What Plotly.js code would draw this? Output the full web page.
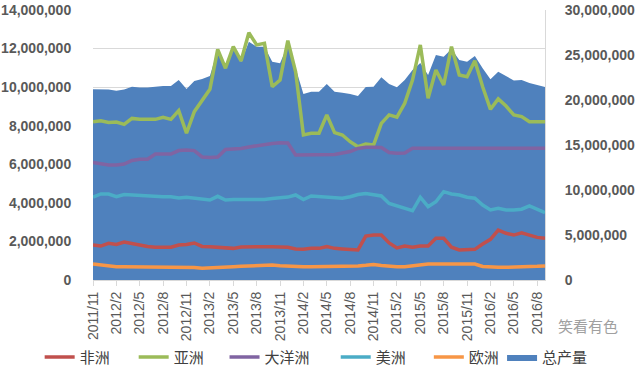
<!DOCTYPE html>
<html>
<head>
<meta charset="utf-8">
<script src="https://cdn.plot.ly/plotly-3.0.1.min.js"></script>
<style>
html,body{margin:0;padding:0;background:#fff;}
#chart{width:640px;height:369px;}
</style>
</head>
<body>
<div id="chart"></div>
<script>
var months = ['2011/11','2011/12','2012/1','2012/2','2012/3','2012/4','2012/5','2012/6','2012/7','2012/8','2012/9','2012/10',
'2012/11','2012/12','2013/1','2013/2','2013/3','2013/4','2013/5','2013/6','2013/7','2013/8','2013/9','2013/10',
'2013/11','2013/12','2014/1','2014/2','2014/3','2014/4','2014/5','2014/6','2014/7','2014/8','2014/9','2014/10',
'2014/11','2014/12','2015/1','2015/2','2015/3','2015/4','2015/5','2015/6','2015/7','2015/8','2015/9','2015/10',
'2015/11','2015/12','2016/1','2016/2','2016/3','2016/4','2016/5','2016/6','2016/7','2016/8','2016/9'];

var africa = [1810000,1760000,1900000,1840000,1970000,1900000,1790000,1740000,1700000,1700000,1700000,1810000,
1840000,1920000,1740000,1730000,1700000,1660000,1640000,1710000,1730000,1730000,1730000,1730000,
1700000,1700000,1610000,1590000,1640000,1640000,1730000,1640000,1610000,1580000,1560000,2280000,
2330000,2330000,1920000,1660000,1760000,1700000,1760000,1760000,2160000,2160000,1700000,1560000,
1590000,1590000,1870000,2110000,2590000,2420000,2330000,2450000,2330000,2210000,2160000];

var asia = [8210000,8260000,8170000,8190000,8070000,8380000,8330000,8320000,8330000,8440000,8330000,8780000,
7610000,8730000,9330000,9890000,11960000,10980000,12100000,11360000,12820000,12190000,12270000,10020000,
10370000,12410000,10790000,7520000,7610000,7610000,8560000,7640000,7520000,7170000,6910000,7050000,
7000000,8120000,8560000,8440000,9160000,10370000,12190000,9420000,10890000,10110000,12100000,10630000,
10540000,11370000,10020000,8850000,9390000,9020000,8560000,8470000,8210000,8210000,8210000];

var oceania = [6100000,6010000,5960000,5960000,6010000,6200000,6260000,6260000,6530000,6530000,6530000,6710000,
6740000,6710000,6380000,6350000,6380000,6770000,6780000,6820000,6900000,6970000,7030000,7080000,
7120000,7100000,6480000,6480000,6480000,6480000,6480000,6510000,6590000,6660000,6820000,6880000,
6880000,6870000,6610000,6570000,6590000,6830000,6830000,6830000,6830000,6830000,6830000,6830000,
6830000,6830000,6830000,6830000,6830000,6830000,6830000,6830000,6830000,6830000,6830000];

var america = [4290000,4460000,4460000,4320000,4430000,4410000,4380000,4330000,4320000,4320000,4320000,4250000,
4290000,4230000,4170000,4150000,4340000,4150000,4170000,4170000,4170000,4180000,4180000,4230000,
4250000,4300000,4410000,4170000,4360000,4320000,4300000,4280000,4240000,4320000,4430000,4490000,
4410000,4360000,3970000,3840000,3720000,3590000,4290000,3800000,4060000,4580000,4460000,4410000,
4290000,4240000,3890000,3630000,3720000,3630000,3630000,3670000,3840000,3670000,3490000];

var europe = [830000,780000,700000,690000,690000,690000,690000,690000,690000,690000,690000,690000,
690000,650000,610000,620000,650000,670000,690000,710000,730000,740000,760000,780000,
740000,710000,690000,690000,690000,690000,690000,690000,710000,730000,730000,760000,
800000,750000,700000,690000,690000,750000,800000,830000,830000,830000,830000,860000,
830000,830000,700000,660000,660000,660000,660000,690000,700000,710000,730000];

var total = [21190000,21220000,21170000,21030000,21170000,21480000,21390000,21390000,21500000,21560000,21560000,22220000,
21220000,22110000,22330000,22670000,25560000,23560000,26000000,24220000,26480000,25920000,25920000,24260000,
24070000,26110000,23560000,20670000,20920000,20920000,21780000,20920000,20810000,20670000,20440000,21440000,
21480000,22520000,21780000,21410000,22220000,23330000,24110000,22780000,25000000,24810000,25670000,24440000,
24260000,24890000,23520000,22300000,23150000,22670000,22170000,22220000,21890000,21670000,21440000];

var names = ['非洲','亚洲','大洋洲','美洲','欧洲','总产量'];
var colors = ['#C0504D','#9BBB59','#8064A2','#4BACC6','#F79646','#4F81BD'];
var lineSeries = [africa, asia, oceania, america, europe];
var legendIds = ['legend','legend2','legend3','legend4','legend5','legend6'];

var data = [];
for (var i = 0; i < lineSeries.length; i++) {
  data.push({
    type: 'scatter', mode: 'lines', x: months, y: lineSeries[i], name: names[i],
    xaxis: 'x', yaxis: 'y2', legend: legendIds[i],
    line: {color: colors[i], width: 3.5}
  });
}
data.push({
  type: 'scatter', mode: 'lines', x: months, y: total, name: names[5],
  xaxis: 'x', yaxis: 'y', fill: 'tozeroy', fillcolor: colors[5], legend: legendIds[5],
  line: {color: colors[5], width: 0}
});

var tickFont = {family: 'Liberation Sans, Arial, sans-serif', size: 14, color: '#595959', weight: 'bold'};
var legendFont = {family: 'Noto Sans CJK SC, sans-serif', size: 15, color: '#404040'};
var legendX = [-0.118, 0.090, 0.291, 0.537, 0.743, 0.905];

var layout = {
  width: 640, height: 369,
  margin: {l: 93, r: 95, t: 10, b: 89, autoexpand: false},
  paper_bgcolor: '#ffffff', plot_bgcolor: 'rgba(0,0,0,0)',
  showlegend: true,
  xaxis: {
    type: 'category', range: [0, 58], dtick: 3, tick0: 0,
    tickangle: -90, tickfont: {family: 'Liberation Sans, Arial, sans-serif', size: 14, color: '#595959'},
    showgrid: false, showline: true, linecolor: '#d9d9d9', linewidth: 1,
    ticks: 'outside', ticklen: 5, tickcolor: '#d9d9d9', zeroline: false
  },
  yaxis: {
    side: 'right', range: [0, 30000000], dtick: 5000000, tickformat: ',',
    showgrid: false, zeroline: false, showline: true, linecolor: '#d9d9d9',
    ticks: 'outside', ticklen: 16, tickcolor: 'rgba(0,0,0,0)',
    tickfont: tickFont
  },
  yaxis2: {
    overlaying: 'y', side: 'left', range: [0, 14000000], dtick: 2000000, tickformat: ',',
    showgrid: true, gridcolor: '#d9d9d9', gridwidth: 1, zeroline: false, showline: false,
    ticks: 'outside', ticklen: 18, tickcolor: 'rgba(0,0,0,0)',
    tickfont: tickFont
  },
  annotations: [{
    xref: 'paper', yref: 'paper', x: 1.166, y: -0.167, xanchor: 'right', yanchor: 'middle',
    text: '笑看有色', showarrow: false,
    font: {family: 'Noto Sans CJK SC, sans-serif', size: 15, color: '#a0a0a0'}
  }]
};
for (var j = 0; j < legendIds.length; j++) {
  layout[legendIds[j]] = {
    orientation: 'h', x: legendX[j], xanchor: 'left', y: -0.225, yanchor: 'top',
    font: legendFont, bgcolor: 'rgba(0,0,0,0)', borderwidth: 0
  };
}

Plotly.newPlot('chart', data, layout, {displayModeBar: false, staticPlot: true});
</script>
</body>
</html>
